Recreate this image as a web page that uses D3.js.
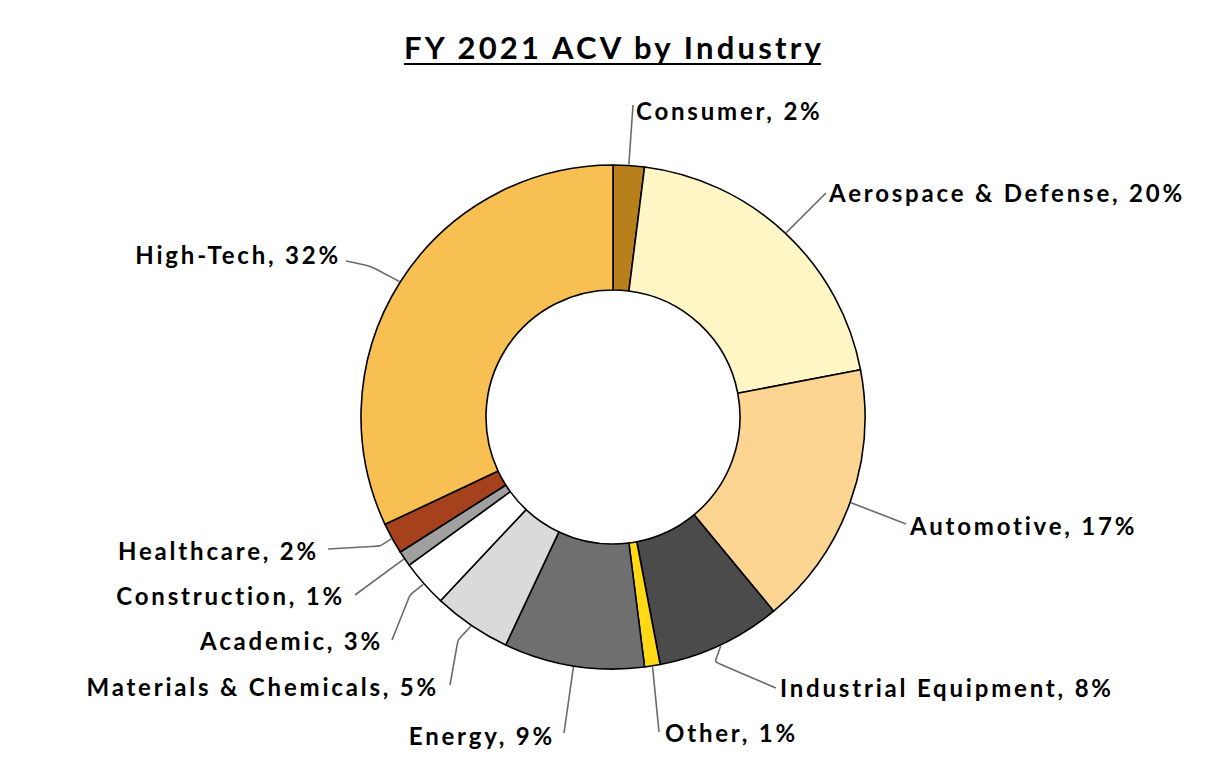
<!DOCTYPE html>
<html>
<head>
<meta charset="utf-8">
<script src="https://cdn.jsdelivr.net/npm/d3@7"></script>
<style>
  html, body { margin: 0; padding: 0; background: #fff; }
  text { font-family: Lato, "Open Sans", sans-serif; font-weight: bold; fill: #000; }
</style>
</head>
<body>
<svg id="chart" width="1226" height="760"></svg>
<script>
// ---- data ----
const categories = ["Consumer", "Aerospace & Defense", "Automotive", "Industrial Equipment", "Other",
  "Energy", "Materials & Chemicals", "Academic", "Construction", "Healthcare", "High-Tech"];
const values = [2, 20, 17, 8, 1, 9, 5, 3, 1, 2, 32];
const colors = ["#B8801A", "#FFF6C6", "#FDD592", "#4B4B4B", "#FFD914",
  "#6F6F6F", "#DADADA", "#FFFFFF", "#A0A0A0", "#A5421D", "#F8C052"];
const title = "FY 2021 ACV by Industry";

// ---- layout (label placement, not data) ----
// [textX, textY, anchor, lineEndX, lineEndY, elbowX, elbowY]
const labelLayout = [
  [636, 120, "start", 633, 105, null, null],
  [829, 202, "start", 826, 193, null, null],
  [910, 535, "start", 906, 524, null, null],
  [780, 697, "start", 776, 688, 715, 662],
  [665, 742, "start", 659, 732, null, null],
  [555, 745, "end", 564, 733, null, null],
  [439, 696, "end", 450, 685, 458, 640],
  [383, 650, "end", 392, 640, 410, 595],
  [345, 605, "end", 355, 595, null, null],
  [319, 560, "end", 328, 549, 380, 546],
  [341, 264, "end", 346, 261, 370, 266]
];

const svg = d3.select("#chart");
const cx = 613, cy = 417, rOuter = 252, rInner = 127;

// title
const t = svg.append("text")
  .attr("x", 614).attr("y", 59)
  .attr("text-anchor", "middle")
  .style("font-size", "31px")
  .style("letter-spacing", "3.2px")
  .text(title);
const tb = t.node().getBBox();
svg.append("line")
  .attr("x1", tb.x).attr("x2", tb.x + tb.width - 3)
  .attr("y1", 64).attr("y2", 64)
  .attr("stroke", "#000").attr("stroke-width", 2);

const pie = d3.pie().sort(null).value(d => d)(values);
const arc = d3.arc().innerRadius(rInner).outerRadius(rOuter);

const g = svg.append("g").attr("transform", `translate(${cx},${cy})`);

g.selectAll("path.slice")
  .data(pie)
  .join("path")
  .attr("class", "slice")
  .attr("d", arc)
  .attr("fill", (d, i) => colors[i])
  .attr("stroke", "#000")
  .attr("stroke-width", 1.6)
  .attr("stroke-linejoin", "round");

// leader lines
const lines = svg.append("g");
pie.forEach((d, i) => {
  const a = (d.startAngle + d.endAngle) / 2;
  const sx = cx + Math.sin(a) * (rOuter + 1);
  const sy = cy - Math.cos(a) * (rOuter + 1);
  const L = labelLayout[i];
  const pts = [[sx, sy]];
  if (L[5] !== null) pts.push([L[5], L[6]]);
  pts.push([L[3], L[4]]);
  lines.append("path")
    .attr("d", d3.line().curve(d3.curveBasis)(pts.length === 3 ? [pts[0], pts[1], pts[1], pts[2]] : pts))
    .attr("fill", "none")
    .attr("stroke", "#6b6b6b")
    .attr("stroke-width", 1.6);
});

// labels
svg.append("g").selectAll("text")
  .data(pie)
  .join("text")
  .attr("x", (d, i) => labelLayout[i][0])
  .attr("y", (d, i) => labelLayout[i][1])
  .attr("text-anchor", (d, i) => labelLayout[i][2])
  .style("font-size", "24px")
  .style("letter-spacing", "2.8px")
  .text((d, i) => `${categories[i]}, ${values[i]}%`);
</script>
</body>
</html>
